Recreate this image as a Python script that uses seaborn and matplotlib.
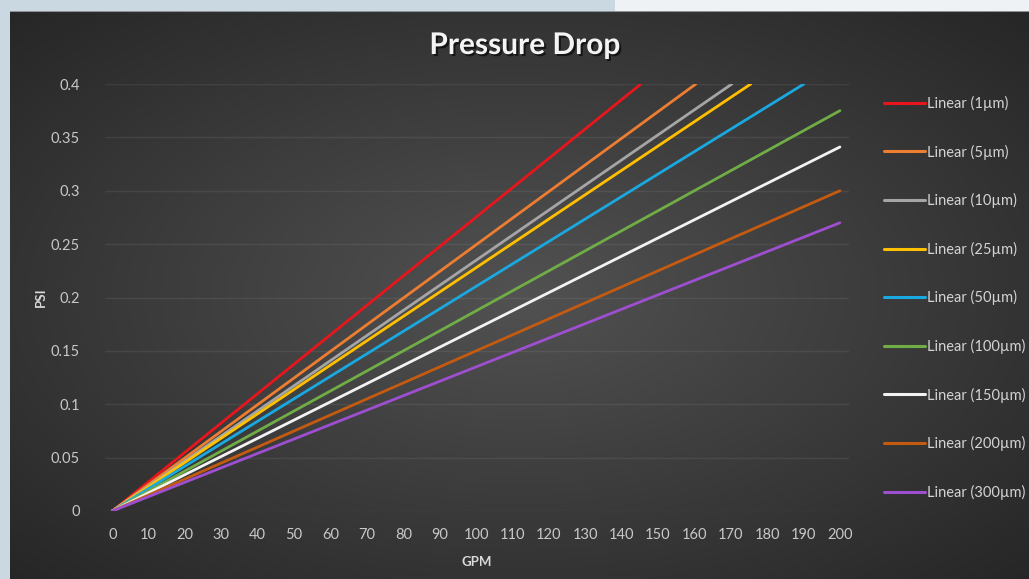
import numpy as np
import pandas as pd
import matplotlib
matplotlib.use('Agg')
import matplotlib.pyplot as plt
import matplotlib.patheffects as pe
import seaborn as sns

# Data: each trendline starts at the origin and
# ends where it leaves the plot (top at 0.4 PSI or right edge at 200 GPM)
series = ['Linear (1µm)', 'Linear (5µm)', 'Linear (10µm)', 'Linear (25µm)',
          'Linear (50µm)', 'Linear (100µm)', 'Linear (150µm)', 'Linear (200µm)',
          'Linear (300µm)']
end_gpm = [145.3, 160.4, 170.3, 175.5, 190.1, 200, 200, 200, 200]
end_psi = [0.4, 0.4, 0.4, 0.4, 0.4, 0.375, 0.341, 0.30, 0.27]
colors = ['#e8161c', '#ed7d31', '#a5a5a5', '#ffc000', '#1aa8e0',
          '#70ad47', '#f2f2f2', '#c55a11', '#9e4fd0']
x_ticks = list(range(0, 201, 10))
y_ticks = [0, 0.05, 0.1, 0.15, 0.2, 0.25, 0.3, 0.35, 0.4]
y_tick_labels = ['0', '0.05', '0.1', '0.15', '0.2', '0.25', '0.3', '0.35', '0.4']

rows = []
for name, gx, gy in zip(series, end_gpm, end_psi):
    rows.append({'Filter': name, 'GPM': 0, 'PSI': 0})
    rows.append({'Filter': name, 'GPM': gx, 'PSI': gy})
df = pd.DataFrame(rows)

sns.set_style('dark', {'axes.facecolor': 'none'})
plt.rcParams['font.family'] = ['Lato', 'DejaVu Sans']

fig = plt.figure(figsize=(10.29, 5.79), dpi=100)
fig.patch.set_facecolor('#c9d8e1')

# light photo strip at the top right
strip = fig.add_axes([615 / 1029, 1 - 11 / 579, 1 - 615 / 1029, 11 / 579])
strip.set_axis_off()
strip.add_patch(plt.Rectangle((0, 0), 1, 1, color='#eef2f4', transform=strip.transAxes))

# dark radial gradient panel
bg = fig.add_axes([10 / 1029, 0, 1 - 10 / 1029, 1 - 11 / 579])
gx_, gy_ = np.meshgrid(np.linspace(-1, 1, 400), np.linspace(-1, 1, 240))
r = np.sqrt(gx_ ** 2 + gy_ ** 2) / np.sqrt(2)
shade = 0.32 - 0.17 * r
bg.imshow(np.dstack([shade, shade, shade]), aspect='auto', extent=[0, 1, 0, 1])
bg.axhline(1, color='#8a9096', linewidth=1.5)
bg.set_axis_off()

ax = fig.add_axes([105 / 1029, 1 - 511 / 579, (849 - 105) / 1029, (511 - 84) / 579])
sns.lineplot(data=df, x='GPM', y='PSI', hue='Filter', palette=colors,
             linewidth=2.0, ax=ax, legend=False)

ax.set_xlim(-2, 202.5)
ax.set_ylim(0, 0.4)
ax.set_xticks(x_ticks)
ax.set_yticks(y_ticks)
ax.set_yticklabels(y_tick_labels)
ax.tick_params(colors='#c8c8c8', labelsize=10.5, length=0)
ax.tick_params(axis='y', pad=18)
ax.tick_params(axis='x', pad=12)
ax.grid(axis='y', color='white', alpha=0.07, linewidth=1.0)
ax.grid(axis='x', visible=False)
for s in ax.spines.values():
    s.set_visible(False)
ax.set_xlabel('GPM', color='#d9d9d9', fontsize=9.5, fontweight='bold', labelpad=10)
ax.set_ylabel('PSI', color='#d9d9d9', fontsize=9.5, fontweight='bold', labelpad=3)

handles = [plt.Line2D([], [], color=c, linewidth=2.2) for c in colors]
leg = fig.legend(handles, series, loc='upper left', bbox_to_anchor=(878 / 1029, 1 - 90 / 579),
                 frameon=False, fontsize=10.5, handlelength=2.8, handletextpad=0.15,
                 labelspacing=2.3, borderaxespad=0)
for t in leg.get_texts():
    t.set_color('#d4d4d4')

fig.text(525 / 1029, 1 - 45 / 579, 'Pressure Drop', ha='center', va='center',
         color='#f4f4f4', fontsize=21.5, fontweight='bold',
         path_effects=[pe.withSimplePatchShadow(offset=(1.5, -1.5), shadow_rgbFace='black', alpha=0.6)])

fig.savefig('out.png', dpi=100)
